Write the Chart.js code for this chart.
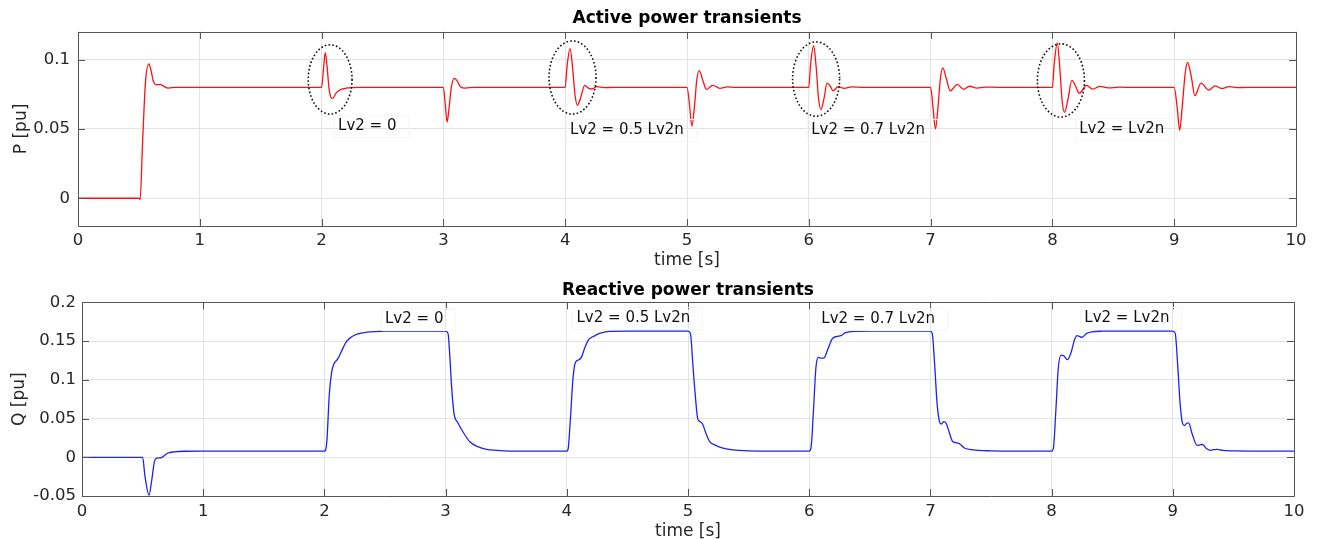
<!DOCTYPE html>
<html>
<head>
<meta charset="utf-8">
<script src="https://cdn.jsdelivr.net/npm/chart.js@4.4.1/dist/chart.umd.min.js"></script>
<style>
  html, body { margin: 0; padding: 0; background: #fff; }
  .panel { position: absolute; left: 0; width: 1320px; }
  #topPanel { top: 0; height: 270px; }
  #bottomPanel { top: 270px; height: 269px; }
</style>
</head>
<body>
<div class="panel" id="topPanel"><canvas id="pChart"></canvas></div>
<div class="panel" id="bottomPanel"><canvas id="qChart"></canvas></div>
<script>
// Axis ticks
const xTicks = [0, 1, 2, 3, 4, 5, 6, 7, 8, 9, 10];
const pTicks = [0, 0.05, 0.1];
const pTickLabels = ['0', '0.05', '0.1'];
const qTicks = [-0.05, 0, 0.05, 0.1, 0.15, 0.2];
const qTickLabels = ['-0.05', '0', '0.05', '0.1', '0.15', '0.2'];

// Active power P [pu] vs time [s]
const pTime = [
    0, 0.5, 0.51, 0.53, 0.555, 0.583, 0.6, 0.62, 0.64, 0.68, 0.71, 0.74, 0.8,
    2.0, 2.015, 2.03, 2.045, 2.06, 2.075, 2.09, 2.12, 2.16, 2.22, 2.3,
    3.0, 3.015, 3.03, 3.045, 3.065, 3.09, 3.11, 3.14, 3.18, 3.25,
    4.0, 4.015, 4.04, 4.06, 4.08, 4.1, 4.125, 4.16, 4.19, 4.22, 4.26, 4.32, 4.4,
    5.0, 5.02, 5.04, 5.06, 5.08, 5.1, 5.13, 5.16, 5.21, 5.27, 5.33, 5.4,
    6.0, 6.015, 6.04, 6.06, 6.08, 6.1, 6.125, 6.15, 6.175, 6.2, 6.24, 6.29, 6.35, 6.45,
    7.0, 7.02, 7.04, 7.06, 7.08, 7.1, 7.13, 7.16, 7.22, 7.27, 7.32, 7.38, 7.45, 7.55,
    8.0, 8.015, 8.04, 8.06, 8.08, 8.1, 8.125, 8.16, 8.19, 8.22, 8.28, 8.33, 8.39, 8.46, 8.55, 8.65,
    9.0, 9.025, 9.045, 9.065, 9.09, 9.11, 9.14, 9.17, 9.22, 9.285, 9.335, 9.39, 9.45, 9.52, 9.6, 10
];
const pValue = [
    0, 0, -0.001, 0.04, 0.085, 0.097, 0.092, 0.084, 0.082, 0.082, 0.0805, 0.0795, 0.08,
    0.08, 0.093, 0.105, 0.095, 0.08, 0.073, 0.072, 0.076, 0.0785, 0.0797, 0.08,
    0.08, 0.068, 0.055, 0.064, 0.08, 0.0865, 0.085, 0.0805, 0.0795, 0.08,
    0.08, 0.095, 0.108, 0.095, 0.075, 0.067, 0.072, 0.0815, 0.0795, 0.0788, 0.0805, 0.0798, 0.08,
    0.08, 0.068, 0.052, 0.065, 0.085, 0.092, 0.085, 0.0785, 0.0815, 0.0793, 0.0803, 0.08,
    0.08, 0.097, 0.11, 0.095, 0.072, 0.064, 0.072, 0.083, 0.081, 0.0775, 0.0805, 0.0793, 0.0803, 0.08,
    0.08, 0.065, 0.05, 0.065, 0.086, 0.094, 0.086, 0.0775, 0.0822, 0.0785, 0.0808, 0.0795, 0.0802, 0.08,
    0.08, 0.097, 0.112, 0.095, 0.07, 0.062, 0.07, 0.085, 0.081, 0.0757, 0.0815, 0.0787, 0.0807, 0.0796, 0.0801, 0.08,
    0.08, 0.065, 0.049, 0.065, 0.09, 0.098, 0.088, 0.074, 0.083, 0.078, 0.081, 0.0792, 0.0805, 0.0798, 0.08, 0.08
];

// Reactive power Q [pu] vs time [s]
const qTime = [
    0, 0.5, 0.52, 0.553, 0.575, 0.6, 0.62, 0.655, 0.685, 0.71, 0.76, 0.85, 1.0,
    2.0, 2.02, 2.04, 2.06, 2.08, 2.11, 2.15, 2.18, 2.22, 2.27, 2.35, 2.5, 2.7,
    3.0, 3.02, 3.035, 3.05, 3.07, 3.1, 3.15, 3.2, 3.26, 3.33, 3.45, 3.6,
    4.0, 4.01, 4.03, 4.05, 4.07, 4.1, 4.12, 4.15, 4.18, 4.22, 4.27, 4.35, 4.5,
    5.0, 5.02, 5.04, 5.06, 5.08, 5.1, 5.12, 5.15, 5.18, 5.22, 5.28, 5.37, 5.5, 5.7,
    6.0, 6.015, 6.035, 6.055, 6.075, 6.1, 6.12, 6.15, 6.19, 6.23, 6.26, 6.3, 6.38, 6.5,
    7.0, 7.015, 7.035, 7.055, 7.075, 7.09, 7.11, 7.13, 7.16, 7.185, 7.21, 7.24, 7.28, 7.35, 7.5, 7.7,
    8.0, 8.015, 8.035, 8.055, 8.08, 8.1, 8.13, 8.16, 8.19, 8.21, 8.23, 8.25, 8.29, 8.33, 8.42, 8.6,
    9.0, 9.02, 9.04, 9.06, 9.08, 9.095, 9.115, 9.13, 9.16, 9.2, 9.225, 9.245, 9.28, 9.31, 9.34, 9.37, 9.41, 9.5, 9.7, 10
];
const qValue = [
    0, 0, -0.025, -0.049, -0.03, -0.004, -0.001, -0.0005, 0.003, 0.0055, 0.007, 0.0078, 0.008,
    0.008, 0.02, 0.08, 0.11, 0.121, 0.127, 0.14, 0.149, 0.155, 0.159, 0.1615, 0.1628, 0.163,
    0.163, 0.16, 0.13, 0.09, 0.056, 0.045, 0.031, 0.02, 0.014, 0.0105, 0.0087, 0.008,
    0.008, 0.01, 0.05, 0.1, 0.122, 0.126, 0.129, 0.142, 0.152, 0.156, 0.16, 0.1625, 0.163,
    0.163, 0.16, 0.12, 0.08, 0.05, 0.046, 0.043, 0.03, 0.02, 0.016, 0.012, 0.0095, 0.0083, 0.008,
    0.008, 0.012, 0.06, 0.115, 0.129, 0.128, 0.128, 0.138, 0.153, 0.156, 0.157, 0.161, 0.1627, 0.163,
    0.163, 0.16, 0.12, 0.07, 0.046, 0.043, 0.046, 0.044, 0.03, 0.02, 0.019, 0.0175, 0.012, 0.0095, 0.0083, 0.008,
    0.008, 0.012, 0.06, 0.115, 0.132, 0.131, 0.126, 0.135, 0.152, 0.157, 0.156, 0.155, 0.16, 0.162, 0.1628, 0.163,
    0.163, 0.16, 0.12, 0.07, 0.044, 0.041, 0.044, 0.0445, 0.03, 0.0155, 0.016, 0.0165, 0.011, 0.009, 0.0098, 0.0103, 0.0088, 0.0082, 0.008, 0.008
];

// Case annotations (text anchored at left/middle, in data units)
const caseLabels = ['Lv2 = 0', 'Lv2 = 0.5 Lv2n', 'Lv2 = 0.7 Lv2n', 'Lv2 = Lv2n'];
const pLabelT = [2.135, 4.04, 6.02, 8.22];
const pLabelV = [0.052, 0.0495, 0.0495, 0.05];
const qLabelT = [2.5, 4.08, 6.1, 8.27];
const qLabelV = [0.179, 0.18, 0.178, 0.18];

// Dotted rings around the switch-on transients of P (centre and half-axes, data units)
const ringT = [2.07, 4.06, 6.06, 8.07];
const ringV = [0.0857, 0.0871, 0.086, 0.085];
const ringHalfT = [0.18, 0.193, 0.193, 0.193];
const ringHalfV = [0.025, 0.0264, 0.0268, 0.0264];

document.addEventListener('DOMContentLoaded', function() {
    const fontFamily = "'DejaVu Sans', sans-serif";
    const axisColor = '#262626';
    const gridColor = '#e3e3e3';

    // MATLAB-like box with inward tick marks on all four sides
    const boxPlugin = {
        id: 'axesBox',
        afterDatasetsDraw(chart) {
            const { ctx, chartArea: a, scales } = chart;
            const len = 7;
            ctx.save();
            ctx.strokeStyle = '#555';
            ctx.lineWidth = 1;
            ctx.beginPath();
            ctx.rect(Math.round(a.left) + 0.5, Math.round(a.top) + 0.5,
                Math.round(a.right - a.left), Math.round(a.bottom - a.top));
            scales.x.ticks.forEach(t => {
                const px = Math.round(scales.x.getPixelForValue(t.value)) + 0.5;
                ctx.moveTo(px, a.bottom); ctx.lineTo(px, a.bottom - len);
                ctx.moveTo(px, a.top); ctx.lineTo(px, a.top + len);
            });
            scales.y.ticks.forEach(t => {
                const py = Math.round(scales.y.getPixelForValue(t.value)) + 0.5;
                ctx.moveTo(a.left, py); ctx.lineTo(a.left + len, py);
                ctx.moveTo(a.right, py); ctx.lineTo(a.right - len, py);
            });
            ctx.stroke();
            ctx.restore();
        }
    };

    // Text labels and dotted ellipses
    const notesPlugin = {
        id: 'notes',
        afterDatasetsDraw(chart, args, opts) {
            const { ctx, scales: { x, y } } = chart;
            ctx.save();
            (opts.rings || []).forEach(r => {
                const cx = x.getPixelForValue(r.t);
                const cy = y.getPixelForValue(r.v);
                const rx = Math.abs(x.getPixelForValue(r.t + r.dt) - cx);
                const ry = Math.abs(y.getPixelForValue(r.v + r.dv) - cy);
                ctx.beginPath();
                ctx.setLineDash([1.6, 2.2]);
                ctx.lineWidth = 1.6;
                ctx.strokeStyle = '#111';
                ctx.ellipse(cx, cy, rx, ry, 0, 0, Math.PI * 2);
                ctx.stroke();
            });
            ctx.setLineDash([]);
            ctx.font = '15px ' + fontFamily;
            ctx.textAlign = 'left';
            ctx.textBaseline = 'middle';
            (opts.labels || []).forEach(l => {
                const px = x.getPixelForValue(l.t);
                const py = y.getPixelForValue(l.v);
                const w = ctx.measureText(l.text).width;
                // faint text frame, as in the original figure
                ctx.strokeStyle = '#f6f6f6';
                ctx.lineWidth = 1;
                ctx.strokeRect(Math.round(px - 4) + 0.5, Math.round(py - 11) + 0.5, Math.round(w + 16), 22);
                ctx.fillStyle = '#111';
                ctx.fillText(l.text, px, py);
            });
            ctx.restore();
        }
    };

    function buildChart(canvasId, cfg) {
        return new Chart(document.getElementById(canvasId), {
            type: 'line',
            data: {
                datasets: [{
                    data: cfg.time.map((t, i) => ({ x: t, y: cfg.values[i] })),
                    borderColor: cfg.color,
                    borderWidth: 1.3,
                    pointRadius: 0,
                    cubicInterpolationMode: 'monotone',
                    fill: false
                }]
            },
            options: {
                responsive: true,
                maintainAspectRatio: false,
                animation: false,
                layout: { padding: { left: 0, right: cfg.padRight, top: 0, bottom: 0 } },
                plugins: {
                    legend: { display: false },
                    tooltip: { enabled: false },
                    title: {
                        display: true,
                        fullSize: false,
                        text: cfg.title,
                        color: '#000',
                        font: { family: fontFamily, size: 17, weight: 'bold', lineHeight: 1.2 },
                        padding: { top: cfg.titleTop, bottom: cfg.titleBottom }
                    },
                    notes: { labels: cfg.labels, rings: cfg.rings }
                },
                scales: {
                    x: {
                        type: 'linear',
                        min: 0,
                        max: 10,
                        afterBuildTicks: s => { s.ticks = xTicks.map(v => ({ value: v })); },
                        afterFit: s => { s.height = cfg.xHeight; },
                        grid: { color: gridColor, drawTicks: false },
                        border: { display: false },
                        ticks: {
                            padding: cfg.xTickPad,
                            color: axisColor,
                            font: { family: fontFamily, size: 16.5 },
                            maxRotation: 0,
                            callback: v => String(v)
                        },
                        title: {
                            display: true,
                            text: 'time [s]',
                            color: axisColor,
                            font: { family: fontFamily, size: 17, lineHeight: 1 },
                            padding: { top: 0, bottom: cfg.xTitlePad }
                        }
                    },
                    y: {
                        type: 'linear',
                        min: cfg.yMin,
                        max: cfg.yMax,
                        afterBuildTicks: s => { s.ticks = cfg.yTicks.map(v => ({ value: v })); },
                        afterFit: s => { s.width = cfg.yWidth; },
                        grid: { color: gridColor, drawTicks: false },
                        border: { display: false },
                        ticks: {
                            padding: cfg.yTickPad,
                            color: axisColor,
                            font: { family: fontFamily, size: 16.5 },
                            callback: (v, i) => cfg.yTickLabels[i]
                        },
                        title: {
                            display: true,
                            text: cfg.yTitle,
                            color: axisColor,
                            font: { family: fontFamily, size: 17, lineHeight: 1 },
                            padding: { top: cfg.yTitlePad, bottom: 0 }
                        }
                    }
                }
            },
            plugins: [boxPlugin, notesPlugin]
        });
    }

    // Active power
    buildChart('pChart', {
        time: pTime,
        values: pValue,
        color: '#ff1010',
        title: 'Active power transients',
        titleTop: 8, titleBottom: 3.5,
        padRight: 24,
        xHeight: 44, xTickPad: 5, xTitlePad: 1,
        yMin: -0.02, yMax: 0.12,
        yTicks: pTicks, yTickLabels: pTickLabels,
        yWidth: 78, yTickPad: 8, yTitle: 'P [pu]', yTitlePad: 13.5,
        labels: caseLabels.map((text, i) => ({ text, t: pLabelT[i], v: pLabelV[i] })),
        rings: ringT.map((t, i) => ({ t, v: ringV[i], dt: ringHalfT[i], dv: ringHalfV[i] }))
    });

    // Reactive power
    buildChart('qChart', {
        time: qTime,
        values: qValue,
        color: '#2020f0',
        title: 'Reactive power transients',
        titleTop: 10, titleBottom: 2,
        padRight: 26,
        xHeight: 43, xTickPad: 6, xTitlePad: -1,
        yMin: -0.05, yMax: 0.2,
        yTicks: qTicks, yTickLabels: qTickLabels,
        yWidth: 82, yTickPad: 6, yTitle: 'Q [pu]', yTitlePad: 11.5,
        labels: caseLabels.map((text, i) => ({ text, t: qLabelT[i], v: qLabelV[i] })),
        rings: []
    });
});
</script>
</body>
</html>
